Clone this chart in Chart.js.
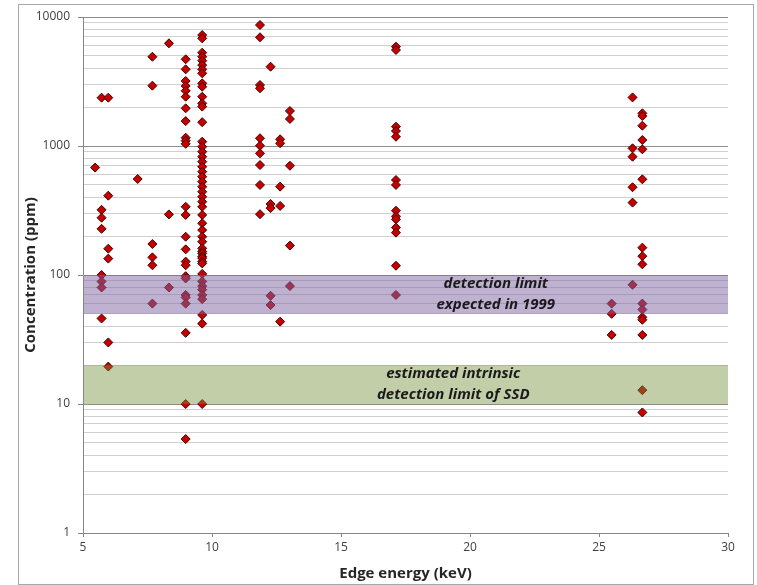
<!DOCTYPE html>
<html>
<head>
<meta charset="utf-8">
<script src="https://cdn.jsdelivr.net/npm/chart.js"></script>
<style>
  body { margin: 0; background: #fff; }
  canvas { display: block; }
</style>
</head>
<body>
<canvas id="chart" width="757" height="585"></canvas>
<script>
// edge energy of each column (keV)
const energies = [5.47, 5.72, 5.98, 7.12, 7.69, 8.33, 8.98, 9.62, 11.86, 12.27, 12.64, 13.02, 17.13, 25.49, 26.3, 26.68];

// concentrations (ppm) found at each edge energy
const concentrations = [
  [680],
  [2370, 320, 278, 228, 100, 89, 80, 46],
  [2370, 412, 160, 134, 30, 19.5],
  [555],
  [4920, 2935, 174, 137, 119, 60],
  [6250, 295, 80],
  [4700, 3930, 3190, 2920, 2680, 2410, 1960, 1560, 1160, 1100, 1040, 338, 292, 198, 158, 127, 119, 98, 94, 70, 67, 60, 35.6, 10, 5.35],
  [7250, 6830, 5290, 4920, 4580, 4240, 3930, 3660, 3060, 2880, 2410, 2140, 2020, 1530,
   1080, 988, 903, 826, 756, 691, 632, 578, 529, 483, 442, 404, 370, 338, 292, 252, 223, 198, 181, 161,
   152, 147, 139, 135, 127, 123, 102, 89, 82, 77, 70, 65, 49, 42, 10],
  [8670, 6960, 2970, 2800, 1148, 1005, 877, 712, 499, 296],
  [4120, 355, 330, 69, 58.5],
  [1127, 1050, 484, 343, 43.5],
  [1868, 1620, 703, 169, 82],
  [5890, 5550, 1412, 1307, 1180, 545, 499, 315, 285, 270, 233, 213, 118, 70],
  [60, 50, 34.3],
  [2380, 960, 826, 479, 364, 84],
  [1792, 1709, 1437, 1113, 943, 552, 163, 140, 121, 60, 54, 47, 45, 34.3, 12.8, 8.6]
];

const xTicks = [5, 10, 15, 20, 25, 30];
const yTickLabels = [1, 10, 100, 1000, 10000];

// shaded limit bands
const bandLows = [50, 10];
const bandHighs = [100, 20];
const bandColors = ['rgba(128, 100, 162, 0.5)', 'rgba(118, 146, 60, 0.45)'];
const bandTexts = [['detection limit', 'expected in 1999'], ['estimated intrinsic', 'detection limit of SSD']];
const bandTextX = [21.0, 19.35];

const points = energies.flatMap((e, i) => concentrations[i].map(c => ({ x: e, y: c })));

const isDecade = v => yTickLabels.includes(v);

const frame = {
  id: 'frame',
  beforeDraw(chart) {
    const ctx = chart.ctx;
    ctx.save();
    ctx.fillStyle = '#fff';
    ctx.fillRect(0, 0, chart.width, chart.height);
    ctx.strokeStyle = '#a8a8a8';
    ctx.lineWidth = 1;
    ctx.strokeRect(18.5, 4.5, 735, 580);
    ctx.restore();
  }
};

const bands = {
  id: 'bands',
  afterDatasetsDraw(chart) {
    const { ctx, chartArea, scales } = chart;
    ctx.save();
    bandLows.forEach((low, i) => {
      const top = scales.y.getPixelForValue(bandHighs[i]);
      const bottom = scales.y.getPixelForValue(low);
      ctx.fillStyle = bandColors[i];
      ctx.fillRect(chartArea.left + 1, top, chartArea.right - chartArea.left - 1, bottom - top);

      const mid = (top + bottom) / 2;
      const cx = scales.x.getPixelForValue(bandTextX[i]);
      ctx.fillStyle = '#1a1a1a';
      ctx.font = 'italic bold 15px "Open Sans"';
      ctx.textAlign = 'center';
      ctx.textBaseline = 'middle';
      ctx.fillText(bandTexts[i][0], cx, mid - 10.5);
      ctx.fillText(bandTexts[i][1], cx, mid + 10.5);
    });
    ctx.restore();
  }
};

new Chart(document.getElementById('chart'), {
  type: 'scatter',
  data: {
    datasets: [{
      data: points,
      pointStyle: 'rectRot',
      pointRadius: 4.5,
      pointBackgroundColor: '#c40000',
      pointBorderColor: '#4a0000',
      pointBorderWidth: 1
    }]
  },
  options: {
    responsive: false,
    animation: false,
    devicePixelRatio: 1,
    layout: { padding: { left: 0, right: 29, top: 17, bottom: 0 } },
    plugins: { legend: { display: false }, tooltip: { enabled: false } },
    scales: {
      x: {
        type: 'linear',
        min: 5,
        max: 30,
        afterBuildTicks: scale => { scale.ticks = xTicks.map(v => ({ value: v })); },
        afterFit: scale => { scale.height = 52; },
        ticks: { color: '#404040', font: { family: 'Open Sans', size: 12 }, padding: 3, maxRotation: 0 },
        grid: { drawOnChartArea: false, tickLength: 4, color: '#868686' },
        border: { color: '#868686' },
        title: {
          display: true,
          text: 'Edge energy (keV)',
          color: '#262626',
          font: { family: 'Open Sans', size: 15, weight: 'bold' },
          padding: { top: 0, bottom: 2 }
        }
      },
      y: {
        type: 'logarithmic',
        min: 1,
        max: 10000,
        afterBuildTicks: scale => {
          scale.ticks = scale.ticks.filter(t => {
            const m = t.value / Math.pow(10, Math.floor(Math.log10(t.value) + 1e-9));
            return Math.abs(m - Math.round(m)) < 1e-6;
          });
        },
        afterFit: scale => { scale.width = 83; },
        ticks: {
          autoSkip: false,
          color: '#404040',
          font: { family: 'Open Sans', size: 12 },
          padding: 8,
          callback: v => (isDecade(v) ? String(v) : '')
        },
        grid: {
          tickLength: 5,
          color: c => (c.tick && isDecade(c.tick.value) ? '#8c8c8c' : '#d0d0d0'),
          tickColor: c => (c.tick && isDecade(c.tick.value) ? '#868686' : 'rgba(0,0,0,0)')
        },
        border: { color: '#868686' },
        title: {
          display: true,
          text: 'Concentration (ppm)',
          color: '#262626',
          font: { family: 'Open Sans', size: 15, weight: 'bold' },
          padding: { top: 22, bottom: 0 }
        }
      }
    }
  },
  plugins: [frame, bands]
});
</script>
</body>
</html>
